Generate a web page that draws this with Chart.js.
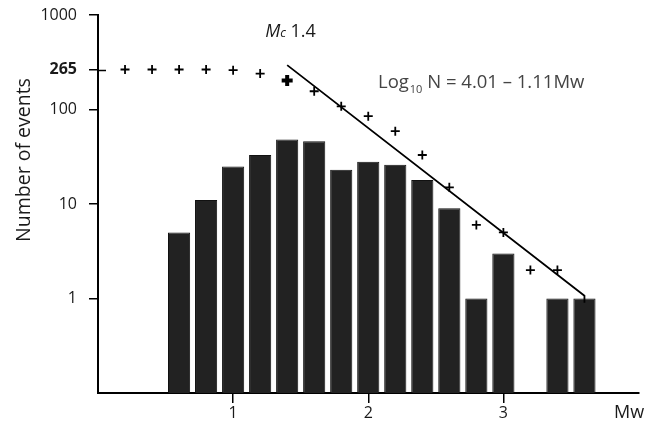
<!DOCTYPE html>
<html>
<head>
<meta charset="utf-8">
<script src="https://cdn.jsdelivr.net/npm/chart.js@4.4.1/dist/chart.umd.min.js"></script>
<style>
  html, body { margin: 0; padding: 0; background: #fff; }
  #wrap { width: 648px; height: 425px; }
</style>
</head>
<body>
<div id="wrap"><canvas id="gr"></canvas></div>
<script>
// events per magnitude bin (Mw), no event in the 3.2 bin
const binMw = [0.6, 0.8, 1.0, 1.2, 1.4, 1.6, 1.8, 2.0, 2.2, 2.4, 2.6, 2.8, 3.0, 3.2, 3.4, 3.6];
const binCount = [5, 11, 25, 33, 48, 46, 23, 28, 26, 18, 9, 1, 3, null, 1, 1];

// cumulative number of events
const cumMw = [0.2, 0.4, 0.6, 0.8, 1.0, 1.2, 1.4, 1.6, 1.8, 2.0, 2.2, 2.4, 2.6, 2.8, 3.0, 3.2, 3.4];
const cumN = [265, 265, 265, 265, 261, 240, 203, 156, 108, 85, 59, 33, 15, 6, 5, 2, 2];

// fitted line as drawn in the figure
const fitMw = [1.4, 3.6, 3.6];
const fitN = [295, 1.07, 0.9];

const mc = 1.4;
const yTicks = [1, 10, 100, 265, 1000];
const xTicks = [1, 2, 3];

const FONT = '"Open Sans", sans-serif';
Chart.defaults.font.family = FONT;
Chart.defaults.color = '#1a1a1a';

const textPlugin = {
    id: 'texts',
    afterDraw(chart) {
        const ctx = chart.ctx;
        const xs = chart.scales.x, ys = chart.scales.y;
        ctx.save();

        // 265 tick crosses the axis
        const y265 = Math.round(ys.getPixelForValue(265)) + 0.5;
        ctx.strokeStyle = '#000';
        ctx.lineWidth = 1.5;
        ctx.beginPath();
        ctx.moveTo(chart.chartArea.left, y265);
        ctx.lineTo(chart.chartArea.left + 8, y265);
        ctx.stroke();

        ctx.fillStyle = '#1a1a1a';
        ctx.textBaseline = 'alphabetic';

        // y title
        ctx.save();
        ctx.translate(29.5, 160);
        ctx.rotate(-Math.PI / 2);
        ctx.textAlign = 'center';
        ctx.font = '19.5px ' + FONT;
        ctx.fillText('Number of events', 0, 0);
        ctx.restore();

        // x title
        ctx.textAlign = 'left';
        ctx.font = '18px ' + FONT;
        ctx.fillText('Mw', 614, 418);

        // Mc label
        let x = xs.getPixelForValue(mc) - 22;
        ctx.font = 'italic 18px ' + FONT;
        ctx.fillText('M', x, 37);
        x += ctx.measureText('M').width;
        ctx.font = 'italic 12.5px ' + FONT;
        ctx.fillText('c', x, 37);
        x += ctx.measureText('c').width;
        ctx.font = '18px ' + FONT;
        ctx.fillText(' 1.4', x, 37);

        // G-R relation
        ctx.fillStyle = '#444';
        x = 378;
        ctx.font = '18.5px ' + FONT;
        ctx.fillText('Log', x, 88);
        x += ctx.measureText('Log').width + 1;
        ctx.font = '11px ' + FONT;
        ctx.fillText('10', x, 93);
        x += ctx.measureText('10').width;
        ctx.font = '18.5px ' + FONT;
        ctx.fillText(' N = 4.01 \u2013 1.11Mw', x, 88);

        ctx.restore();
    }
};

new Chart(document.getElementById('gr'), {
    type: 'bar',
    data: {
        datasets: [
            {
                type: 'line',
                data: fitMw.map((m, i) => ({ x: m, y: fitN[i] })),
                borderColor: '#000',
                borderWidth: 1.8,
                pointRadius: 0,
                fill: false,
                tension: 0,
                order: 0
            },
            {
                type: 'scatter',
                data: cumMw.map((m, i) => ({ x: m, y: cumN[i] })),
                pointStyle: 'cross',
                pointRadius: cumMw.map(m => m === mc ? 5.5 : 4.5),
                pointBorderWidth: cumMw.map(m => m === mc ? 4 : 1.8),
                pointBorderColor: '#000',
                pointBackgroundColor: '#000',
                order: 1
            },
            {
                data: binMw.map((m, i) => ({ x: m, y: binCount[i] })),
                backgroundColor: '#222222',
                borderColor: '#111111',
                borderWidth: 1,
                categoryPercentage: 1,
                barPercentage: 0.82,
                order: 2
            }
        ]
    },
    options: {
        responsive: true,
        maintainAspectRatio: false,
        animation: false,
        layout: { padding: { top: 15, right: 6.4, left: 0, bottom: 0 } },
        plugins: { legend: { display: false }, tooltip: { enabled: false } },
        scales: {
            x: {
                type: 'linear',
                min: 0,
                max: 4,
                offset: false,
                afterBuildTicks: s => { s.ticks = xTicks.map(v => ({ value: v })); },
                afterFit: s => { s.height = 32; s.paddingLeft = 0; s.paddingRight = 0; },
                ticks: { font: { size: 16 }, padding: 1, color: '#1a1a1a' },
                grid: { offset: false, drawOnChartArea: false, drawTicks: true, tickLength: 10, color: '#000', lineWidth: 1.5 },
                border: { display: true, color: '#000', width: 2 }
            },
            y: {
                type: 'logarithmic',
                min: 0.1,
                max: 1000,
                afterBuildTicks: s => { s.ticks = yTicks.map(v => ({ value: v })); },
                afterFit: s => { s.width = 98; s.paddingTop = 0; s.paddingBottom = 0; },
                ticks: {
                    padding: 12,
                    color: '#1a1a1a',
                    callback: v => String(v),
                    font: c => ({ size: 16, weight: c.tick && c.tick.value === 265 ? 'bold' : 'normal' })
                },
                grid: { drawOnChartArea: false, drawTicks: true, tickLength: 9, color: '#000', lineWidth: 1.5 },
                border: { display: true, color: '#000', width: 2 }
            }
        }
    },
    plugins: [textPlugin]
});
</script>
</body>
</html>
